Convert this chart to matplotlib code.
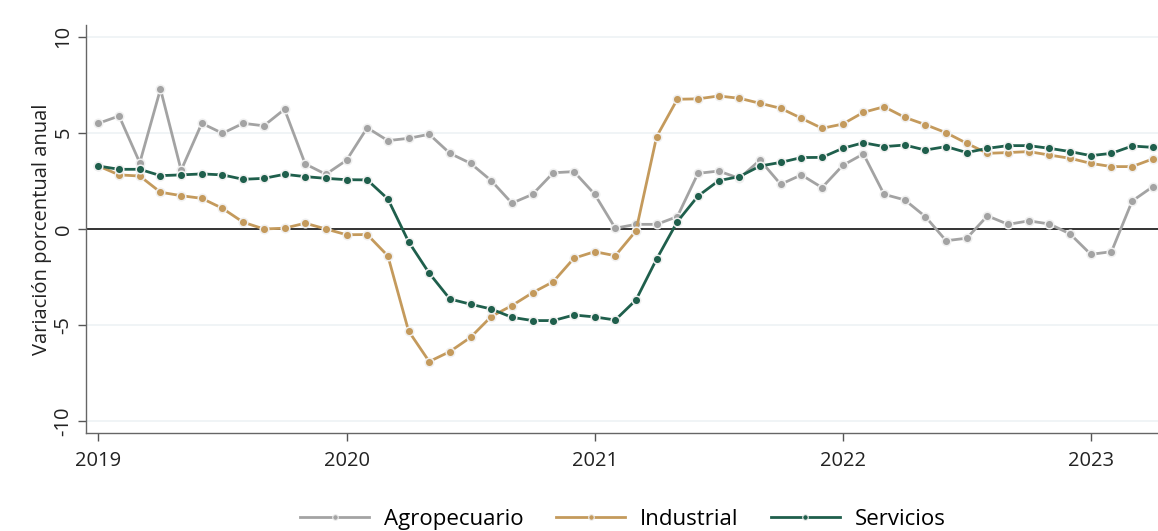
import matplotlib
matplotlib.use("Agg")
import matplotlib.pyplot as plt
from matplotlib.lines import Line2D
import numpy as np

plt.rcParams['font.family'] = ['Open Sans', 'DejaVu Sans']

years = ["2019", "2020", "2021", "2022", "2023"]

agropecuario = [5.49, 5.87, 3.44, 7.27, 3.05, 5.49, 4.97, 5.49, 5.36, 6.22, 3.38, 2.84, 3.57, 5.26,
                4.59, 4.71, 4.92, 3.93, 3.41, 2.51, 1.34, 1.80, 2.92, 2.98, 1.81, 0.04,
                0.24, 0.24, 0.64, 2.89, 3.01, 2.63, 3.58, 2.32, 2.81, 2.15, 3.30, 3.90,
                1.80, 1.51, 0.64, -0.61, -0.48, 0.68, 0.24, 0.42, 0.26, -0.26, -1.32, -1.18,
                1.45, 2.20]
industrial = [3.27, 2.81, 2.75, 1.91, 1.73, 1.59, 1.07, 0.35, 0.0, 0.04, 0.3, 0.0, -0.30, -0.29,
              -1.40, -5.30, -6.89, -6.37, -5.63, -4.55, -3.98, -3.31, -2.74, -1.52, -1.18, -1.39,
              -0.10, 4.80, 6.74, 6.76, 6.91, 6.79, 6.53, 6.27, 5.75, 5.23, 5.45, 6.06,
              6.35, 5.80, 5.42, 5.00, 4.45, 3.93, 3.97, 4.02, 3.84, 3.67, 3.41, 3.24,
              3.24, 3.64]
servicios = [3.27, 3.10, 3.10, 2.77, 2.81, 2.86, 2.81, 2.58, 2.63, 2.84, 2.72, 2.63, 2.56, 2.55,
             1.56, -0.66, -2.30, -3.64, -3.91, -4.16, -4.59, -4.76, -4.76, -4.47, -4.57, -4.73,
             -3.69, -1.56, 0.38, 1.71, 2.51, 2.72, 3.27, 3.46, 3.71, 3.72, 4.19, 4.48,
             4.28, 4.36, 4.10, 4.28, 3.97, 4.19, 4.33, 4.33, 4.19, 4.02, 3.81, 3.93,
             4.31, 4.24]

series = [("Agropecuario", agropecuario, "#a3a3a3"),
          ("Industrial", industrial, "#c49a5c"),
          ("Servicios", servicios, "#1f5f4c")]

x = np.arange(len(agropecuario))

fig = plt.figure(figsize=(11.58, 5.31), dpi=100)
ax = fig.add_axes([0.0743, 0.1846, 0.9257, 0.7684])

for yv in [-10, -5, 5, 10]:
    ax.axhline(yv, color="#edf2f5", lw=1.2, zorder=0)
ax.axhline(0, color="#333333", lw=1.4, zorder=1)

for name, vals, col in series:
    ax.plot(x, vals, color=col, lw=2.0, marker="o", markersize=6.2,
            markerfacecolor=col, markeredgecolor="#f0f0f0", markeredgewidth=1.1,
            label=name, zorder=3)

ax.set_xlim(-0.6, 51.25)
ax.set_ylim(-10.6, 10.6)
ax.set_yticks([-10, -5, 0, 5, 10])
ax.set_yticklabels(["-10", "-5", "0", "5", "10"], rotation=90, va="center")
ax.set_xticks([0, 12, 24, 36, 48])
ax.set_xticklabels(years)
ax.tick_params(axis="both", labelsize=14.5, color="#555555", length=6, width=1, labelcolor="#222222")
ax.tick_params(axis="y", pad=3)
ax.tick_params(axis="x", pad=7)
for s in ["top", "right"]:
    ax.spines[s].set_visible(False)
for s in ["left", "bottom"]:
    ax.spines[s].set_color("#666666")
    ax.spines[s].set_linewidth(1.0)
ax.set_ylabel("Variación porcentual anual", fontsize=14.5, color="#222222", labelpad=1)

hs = [Line2D([0], [0], color=c, lw=2.0, marker="o", markersize=4,
             markerfacecolor=c, markeredgecolor="#eeeeee", markeredgewidth=0.8)
      for _, _, c in series]
fig.legend(hs, [n for n, _, _ in series], loc="lower center", bbox_to_anchor=(0.538, -0.036),
           ncol=3, frameon=False, fontsize=16, handlelength=3.1, columnspacing=1.45,
           handletextpad=0.68)

fig.savefig("out.png", dpi=100)
